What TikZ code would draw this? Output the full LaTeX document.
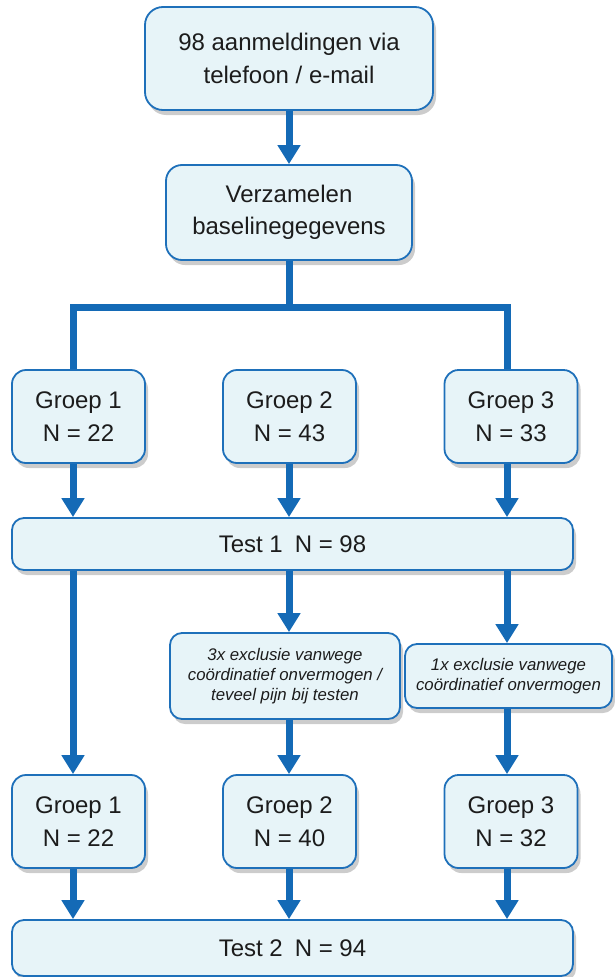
\documentclass[tikz,border=0pt]{standalone}
\usepackage{fontspec}
\setmainfont{Liberation Sans}
\usetikzlibrary{arrows.meta,shadows,calc}
\definecolor{boxfill}{RGB}{231,244,248}
\definecolor{boxline}{RGB}{30,112,186}
\definecolor{arrowblue}{RGB}{20,106,182}
\definecolor{txt}{RGB}{28,28,28}
\begin{document}
\begin{tikzpicture}[x=1pt,y=-1pt,
  box/.style={draw=boxline, line width=1.8pt, fill=boxfill, rounded corners=14pt,
    align=center, inner sep=0pt, text=txt, font=\fontsize{24}{32.5}\selectfont,
    drop shadow={opacity=0.4, shadow xshift=3pt, shadow yshift=-5pt}},
  exbox/.style={box, font=\fontsize{16.8}{20}\selectfont\itshape, rounded corners=12pt},
  arr/.style={draw=arrowblue, line width=7pt, -{Triangle[width=22pt,length=19pt]}},
  ln/.style={draw=arrowblue, line width=7pt}]
\useasboundingbox (0,0) rectangle (614,977);
% columns
\coordinate (c1) at (73,0);
\coordinate (c2) at (289,0);
\coordinate (c3) at (507,0);
% nodes
\node[box, minimum width=288pt, minimum height=103pt, rounded corners=18pt] (top) at (289,58.5) {98 aanmeldingen via\\telefoon / e-mail};
\node[box, minimum width=246pt, minimum height=95pt, rounded corners=16pt] (base) at (289,212.5) {Verzamelen\\baselinegegevens};
\node[box, minimum width=133pt, minimum height=93pt] (g1a) at (78.5,416.5) {Groep 1\\N = 22};
\node[box, minimum width=133pt, minimum height=93pt] (g2a) at (289.5,416.5) {Groep 2\\N = 43};
\node[box, minimum width=133pt, minimum height=93pt] (g3a) at (511,416.5) {Groep 3\\N = 33};
\node[box, minimum width=561pt, minimum height=52pt, rounded corners=12pt] (t1) at (292.5,544) {Test 1\enspace N = 98};
\node[exbox, minimum width=230pt, minimum height=86pt] (ex2) at (285,676) {3x exclusie vanwege\\coördinatief onvermogen /\\teveel pijn bij testen};
\node[exbox, minimum width=207pt, minimum height=64pt] (ex3) at (508.5,676) {1x exclusie vanwege\\coördinatief onvermogen};
\node[box, minimum width=133pt, minimum height=93pt] (g1b) at (78.5,821.5) {Groep 1\\N = 22};
\node[box, minimum width=133pt, minimum height=93pt] (g2b) at (289.5,821.5) {Groep 2\\N = 40};
\node[box, minimum width=133pt, minimum height=93pt] (g3b) at (511,821.5) {Groep 3\\N = 32};
\node[box, minimum width=561pt, minimum height=56pt, rounded corners=12pt] (t2) at (292.5,948) {Test 2\enspace N = 94};
% connectors
\coordinate (split) at (289,307);
\draw[arr] (top.south -| c2) -- (base.north -| c2);
\draw[ln, line join=miter] (base.south -| c2) -- (split) -| (g1a.north -| c1);
\draw[ln, line join=miter] (split) -| (g3a.north -| c3);
\draw[arr] (g1a.south -| c1) -- (t1.north -| c1);
\draw[arr] (g2a.south -| c2) -- (t1.north -| c2);
\draw[arr] (g3a.south -| c3) -- (t1.north -| c3);
\draw[arr] (t1.south -| c1) -- (g1b.north -| c1);
\draw[arr] (t1.south -| c2) -- (ex2.north -| c2);
\draw[arr] (t1.south -| c3) -- (ex3.north -| c3);
\draw[arr] (ex2.south -| c2) -- (g2b.north -| c2);
\draw[arr] (ex3.south -| c3) -- (g3b.north -| c3);
\draw[arr] (g1b.south -| c1) -- (t2.north -| c1);
\draw[arr] (g2b.south -| c2) -- (t2.north -| c2);
\draw[arr] (g3b.south -| c3) -- (t2.north -| c3);
\end{tikzpicture}
\end{document}
